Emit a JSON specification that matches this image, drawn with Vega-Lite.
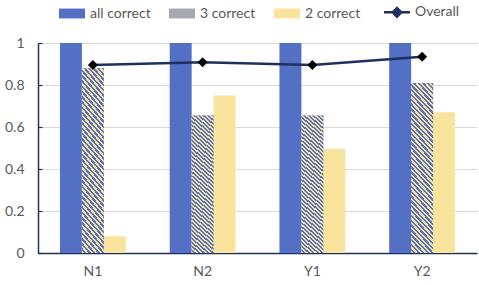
{
  "$schema": "https://vega.github.io/schema/vega-lite/v6.json",
  "width": 439,
  "height": 210,
  "autosize": {"type": "none"},
  "padding": {"left": 38, "top": 43, "right": 2, "bottom": 32},
  "background": "white",
  "config": {"view": {"stroke": null}, "font": "Lato"},
  "datasets": {
    "bars": [
      {"group": "N1", "series": "all correct", "value": 1},
      {"group": "N1", "series": "3 correct", "value": 0.88},
      {"group": "N1", "series": "2 correct", "value": 0.08},
      {"group": "N2", "series": "all correct", "value": 1},
      {"group": "N2", "series": "3 correct", "value": 0.655},
      {"group": "N2", "series": "2 correct", "value": 0.75},
      {"group": "Y1", "series": "all correct", "value": 1},
      {"group": "Y1", "series": "3 correct", "value": 0.655},
      {"group": "Y1", "series": "2 correct", "value": 0.495},
      {"group": "Y2", "series": "all correct", "value": 1},
      {"group": "Y2", "series": "3 correct", "value": 0.81},
      {"group": "Y2", "series": "2 correct", "value": 0.67}
    ],
    "overall": [
      {"group": "N1", "overall": 0.895},
      {"group": "N2", "overall": 0.908},
      {"group": "Y1", "overall": 0.895},
      {"group": "Y2", "overall": 0.935}
    ]
  },
  "layer": [
    {
      "data": {"name": "bars"},
      "mark": {"type": "bar"},
      "encoding": {
        "x": {
          "field": "group", "type": "nominal", "sort": ["N1", "N2", "Y1", "Y2"],
          "scale": {"paddingInner": 0.4, "paddingOuter": 0.2},
          "axis": {"title": null, "ticks": false, "labelAngle": 0, "domainColor": "#1f3060", "domainWidth": 1.5, "labelColor": "#595959", "labelFontSize": 14, "labelPadding": 11, "labelFont": "Lato"}
        },
        "xOffset": {
          "field": "series", "type": "nominal",
          "scale": {"domain": ["all correct", "3 correct", "2 correct"], "paddingInner": 0, "paddingOuter": 0}
        },
        "y": {
          "field": "value", "type": "quantitative",
          "scale": {"domain": [0, 1]},
          "axis": {
            "title": null,
            "values": [0, 0.1, 0.2, 0.3, 0.4, 0.5, 0.6, 0.7, 0.8, 0.9, 1],
            "labelExpr": "round(datum.value*10)%2==0 ? format(datum.value,'~g') : ''",
            "domainColor": "#1f3060", "domainWidth": 1.5,
            "tickColor": "#1f3060", "tickSize": -4, "tickWidth": 1.2,
            "labelColor": "#595959", "labelFontSize": 14, "labelPadding": 18, "labelFont": "Lato",
            "grid": true, "gridColor": "#d9d9d9", "gridWidth": 1.2,
            "gridOpacity": {"condition": {"test": "round(datum.value*10)%2!=0", "value": 0}, "value": 1}
          }
        },
        "color": {
          "field": "series", "type": "nominal",
          "scale": {"domain": ["all correct", "3 correct", "2 correct", "Overall"], "range": ["#5470c4", "#a6aab0", "#f8e49c", "#1f3060"]},
          "legend": {
            "orient": "none", "legendX": 23, "legendY": -38, "direction": "horizontal", "title": null,
            "symbolSize": 676, "symbolType": "M-1,-0.38H1V0.38H-1Z", "symbolOffset": 4, "gridAlign": "each",
            "labelFontSize": 14, "labelColor": "#595959", "labelOffset": 11, "columnPadding": 18, "labelFont": "Lato",
            "encode": {
              "symbols": {
                "update": {
                  "shape": {"signal": "datum.value === 'Overall' ? 'M-1,0H1M0,-0.33L0.33,0L0,0.33L-0.33,0Z' : 'M-1,-0.38H1V0.38H-1Z'"},
                  "fill": {"signal": "datum.value === 'Overall' ? 'black' : datum.value === '3 correct' ? {gradient: 'linear', x1: 1, y1: 0, x2: -0.206, y2: 0.464, stops: [{offset: 0, color: '#5470c4'}, {offset: 0.0625, color: '#5470c4'}, {offset: 0.0625, color: '#f8e49c'}, {offset: 0.125, color: '#f8e49c'}, {offset: 0.125, color: '#5470c4'}, {offset: 0.1875, color: '#5470c4'}, {offset: 0.1875, color: '#f8e49c'}, {offset: 0.25, color: '#f8e49c'}, {offset: 0.25, color: '#5470c4'}, {offset: 0.3125, color: '#5470c4'}, {offset: 0.3125, color: '#f8e49c'}, {offset: 0.375, color: '#f8e49c'}, {offset: 0.375, color: '#5470c4'}, {offset: 0.4375, color: '#5470c4'}, {offset: 0.4375, color: '#f8e49c'}, {offset: 0.5, color: '#f8e49c'}, {offset: 0.5, color: '#5470c4'}, {offset: 0.5625, color: '#5470c4'}, {offset: 0.5625, color: '#f8e49c'}, {offset: 0.625, color: '#f8e49c'}, {offset: 0.625, color: '#5470c4'}, {offset: 0.6875, color: '#5470c4'}, {offset: 0.6875, color: '#f8e49c'}, {offset: 0.75, color: '#f8e49c'}, {offset: 0.75, color: '#5470c4'}, {offset: 0.8125, color: '#5470c4'}, {offset: 0.8125, color: '#f8e49c'}, {offset: 0.875, color: '#f8e49c'}, {offset: 0.875, color: '#5470c4'}, {offset: 0.9375, color: '#5470c4'}, {offset: 0.9375, color: '#f8e49c'}, {offset: 1, color: '#f8e49c'}]} : scale('color', datum.value)"},
                  "stroke": {"signal": "datum.value === 'Overall' ? '#1f3060' : 'transparent'"},
                  "strokeWidth": {"signal": "datum.value === 'Overall' ? 2.5 : 0"}
                }
              }
            }
          }
        }
      }
    },
    {
      "data": {"name": "bars"},
      "transform": [{"filter": "datum.series === '3 correct'"}],
      "mark": {
        "type": "bar",
        "fill": {"gradient": "linear", "x1": 1, "y1": 0, "x2": 0.8465, "y2": 1.1164, "stops": [
          {"offset": 0, "color": "#5470c4"},
          {"offset": 0.0125, "color": "#5470c4"}, {"offset": 0.0125, "color": "#f8e49c"},
          {"offset": 0.025, "color": "#f8e49c"}, {"offset": 0.025, "color": "#5470c4"},
          {"offset": 0.0375, "color": "#5470c4"}, {"offset": 0.0375, "color": "#f8e49c"},
          {"offset": 0.05, "color": "#f8e49c"}, {"offset": 0.05, "color": "#5470c4"},
          {"offset": 0.0625, "color": "#5470c4"}, {"offset": 0.0625, "color": "#f8e49c"},
          {"offset": 0.075, "color": "#f8e49c"}, {"offset": 0.075, "color": "#5470c4"},
          {"offset": 0.0875, "color": "#5470c4"}, {"offset": 0.0875, "color": "#f8e49c"},
          {"offset": 0.1, "color": "#f8e49c"}, {"offset": 0.1, "color": "#5470c4"},
          {"offset": 0.1125, "color": "#5470c4"}, {"offset": 0.1125, "color": "#f8e49c"},
          {"offset": 0.125, "color": "#f8e49c"}, {"offset": 0.125, "color": "#5470c4"},
          {"offset": 0.1375, "color": "#5470c4"}, {"offset": 0.1375, "color": "#f8e49c"},
          {"offset": 0.15, "color": "#f8e49c"}, {"offset": 0.15, "color": "#5470c4"},
          {"offset": 0.1625, "color": "#5470c4"}, {"offset": 0.1625, "color": "#f8e49c"},
          {"offset": 0.175, "color": "#f8e49c"}, {"offset": 0.175, "color": "#5470c4"},
          {"offset": 0.1875, "color": "#5470c4"}, {"offset": 0.1875, "color": "#f8e49c"},
          {"offset": 0.2, "color": "#f8e49c"}, {"offset": 0.2, "color": "#5470c4"},
          {"offset": 0.2125, "color": "#5470c4"}, {"offset": 0.2125, "color": "#f8e49c"},
          {"offset": 0.225, "color": "#f8e49c"}, {"offset": 0.225, "color": "#5470c4"},
          {"offset": 0.2375, "color": "#5470c4"}, {"offset": 0.2375, "color": "#f8e49c"},
          {"offset": 0.25, "color": "#f8e49c"}, {"offset": 0.25, "color": "#5470c4"},
          {"offset": 0.2625, "color": "#5470c4"}, {"offset": 0.2625, "color": "#f8e49c"},
          {"offset": 0.275, "color": "#f8e49c"}, {"offset": 0.275, "color": "#5470c4"},
          {"offset": 0.2875, "color": "#5470c4"}, {"offset": 0.2875, "color": "#f8e49c"},
          {"offset": 0.3, "color": "#f8e49c"}, {"offset": 0.3, "color": "#5470c4"},
          {"offset": 0.3125, "color": "#5470c4"}, {"offset": 0.3125, "color": "#f8e49c"},
          {"offset": 0.325, "color": "#f8e49c"}, {"offset": 0.325, "color": "#5470c4"},
          {"offset": 0.3375, "color": "#5470c4"}, {"offset": 0.3375, "color": "#f8e49c"},
          {"offset": 0.35, "color": "#f8e49c"}, {"offset": 0.35, "color": "#5470c4"},
          {"offset": 0.3625, "color": "#5470c4"}, {"offset": 0.3625, "color": "#f8e49c"},
          {"offset": 0.375, "color": "#f8e49c"}, {"offset": 0.375, "color": "#5470c4"},
          {"offset": 0.3875, "color": "#5470c4"}, {"offset": 0.3875, "color": "#f8e49c"},
          {"offset": 0.4, "color": "#f8e49c"}, {"offset": 0.4, "color": "#5470c4"},
          {"offset": 0.4125, "color": "#5470c4"}, {"offset": 0.4125, "color": "#f8e49c"},
          {"offset": 0.425, "color": "#f8e49c"}, {"offset": 0.425, "color": "#5470c4"},
          {"offset": 0.4375, "color": "#5470c4"}, {"offset": 0.4375, "color": "#f8e49c"},
          {"offset": 0.45, "color": "#f8e49c"}, {"offset": 0.45, "color": "#5470c4"},
          {"offset": 0.4625, "color": "#5470c4"}, {"offset": 0.4625, "color": "#f8e49c"},
          {"offset": 0.475, "color": "#f8e49c"}, {"offset": 0.475, "color": "#5470c4"},
          {"offset": 0.4875, "color": "#5470c4"}, {"offset": 0.4875, "color": "#f8e49c"},
          {"offset": 0.5, "color": "#f8e49c"}, {"offset": 0.5, "color": "#5470c4"},
          {"offset": 0.5125, "color": "#5470c4"}, {"offset": 0.5125, "color": "#f8e49c"},
          {"offset": 0.525, "color": "#f8e49c"}, {"offset": 0.525, "color": "#5470c4"},
          {"offset": 0.5375, "color": "#5470c4"}, {"offset": 0.5375, "color": "#f8e49c"},
          {"offset": 0.55, "color": "#f8e49c"}, {"offset": 0.55, "color": "#5470c4"},
          {"offset": 0.5625, "color": "#5470c4"}, {"offset": 0.5625, "color": "#f8e49c"},
          {"offset": 0.575, "color": "#f8e49c"}, {"offset": 0.575, "color": "#5470c4"},
          {"offset": 0.5875, "color": "#5470c4"}, {"offset": 0.5875, "color": "#f8e49c"},
          {"offset": 0.6, "color": "#f8e49c"}, {"offset": 0.6, "color": "#5470c4"},
          {"offset": 0.6125, "color": "#5470c4"}, {"offset": 0.6125, "color": "#f8e49c"},
          {"offset": 0.625, "color": "#f8e49c"}, {"offset": 0.625, "color": "#5470c4"},
          {"offset": 0.6375, "color": "#5470c4"}, {"offset": 0.6375, "color": "#f8e49c"},
          {"offset": 0.65, "color": "#f8e49c"}, {"offset": 0.65, "color": "#5470c4"},
          {"offset": 0.6625, "color": "#5470c4"}, {"offset": 0.6625, "color": "#f8e49c"},
          {"offset": 0.675, "color": "#f8e49c"}, {"offset": 0.675, "color": "#5470c4"},
          {"offset": 0.6875, "color": "#5470c4"}, {"offset": 0.6875, "color": "#f8e49c"},
          {"offset": 0.7, "color": "#f8e49c"}, {"offset": 0.7, "color": "#5470c4"},
          {"offset": 0.7125, "color": "#5470c4"}, {"offset": 0.7125, "color": "#f8e49c"},
          {"offset": 0.725, "color": "#f8e49c"}, {"offset": 0.725, "color": "#5470c4"},
          {"offset": 0.7375, "color": "#5470c4"}, {"offset": 0.7375, "color": "#f8e49c"},
          {"offset": 0.75, "color": "#f8e49c"}, {"offset": 0.75, "color": "#5470c4"},
          {"offset": 0.7625, "color": "#5470c4"}, {"offset": 0.7625, "color": "#f8e49c"},
          {"offset": 0.775, "color": "#f8e49c"}, {"offset": 0.775, "color": "#5470c4"},
          {"offset": 0.7875, "color": "#5470c4"}, {"offset": 0.7875, "color": "#f8e49c"},
          {"offset": 0.8, "color": "#f8e49c"}, {"offset": 0.8, "color": "#5470c4"},
          {"offset": 0.8125, "color": "#5470c4"}, {"offset": 0.8125, "color": "#f8e49c"},
          {"offset": 0.825, "color": "#f8e49c"}, {"offset": 0.825, "color": "#5470c4"},
          {"offset": 0.8375, "color": "#5470c4"}, {"offset": 0.8375, "color": "#f8e49c"},
          {"offset": 0.85, "color": "#f8e49c"}, {"offset": 0.85, "color": "#5470c4"},
          {"offset": 0.8625, "color": "#5470c4"}, {"offset": 0.8625, "color": "#f8e49c"},
          {"offset": 0.875, "color": "#f8e49c"}, {"offset": 0.875, "color": "#5470c4"},
          {"offset": 0.8875, "color": "#5470c4"}, {"offset": 0.8875, "color": "#f8e49c"},
          {"offset": 0.9, "color": "#f8e49c"}, {"offset": 0.9, "color": "#5470c4"},
          {"offset": 0.9125, "color": "#5470c4"}, {"offset": 0.9125, "color": "#f8e49c"},
          {"offset": 0.925, "color": "#f8e49c"}, {"offset": 0.925, "color": "#5470c4"},
          {"offset": 0.9375, "color": "#5470c4"}, {"offset": 0.9375, "color": "#f8e49c"},
          {"offset": 0.95, "color": "#f8e49c"}, {"offset": 0.95, "color": "#5470c4"},
          {"offset": 0.9625, "color": "#5470c4"}, {"offset": 0.9625, "color": "#f8e49c"},
          {"offset": 0.975, "color": "#f8e49c"}, {"offset": 0.975, "color": "#5470c4"},
          {"offset": 0.9875, "color": "#5470c4"}, {"offset": 0.9875, "color": "#f8e49c"},
          {"offset": 1, "color": "#f8e49c"}
        ]}
      },
      "encoding": {
        "x": {"field": "group", "type": "nominal", "sort": ["N1", "N2", "Y1", "Y2"]},
        "xOffset": {"field": "series", "type": "nominal"},
        "y": {"field": "value", "type": "quantitative"}
      }
    },
    {
      "data": {"name": "overall"},
      "mark": {"type": "line", "color": "#1f3060", "strokeWidth": 2.5},
      "encoding": {
        "x": {"field": "group", "type": "nominal", "sort": ["N1", "N2", "Y1", "Y2"]},
        "y": {"field": "overall", "type": "quantitative"}
      }
    },
    {
      "data": {"name": "overall"},
      "mark": {"type": "point", "shape": "diamond", "filled": true, "color": "black", "size": 100, "opacity": 1},
      "encoding": {
        "x": {"field": "group", "type": "nominal", "sort": ["N1", "N2", "Y1", "Y2"]},
        "y": {"field": "overall", "type": "quantitative"}
      }
    }
  ]
}
